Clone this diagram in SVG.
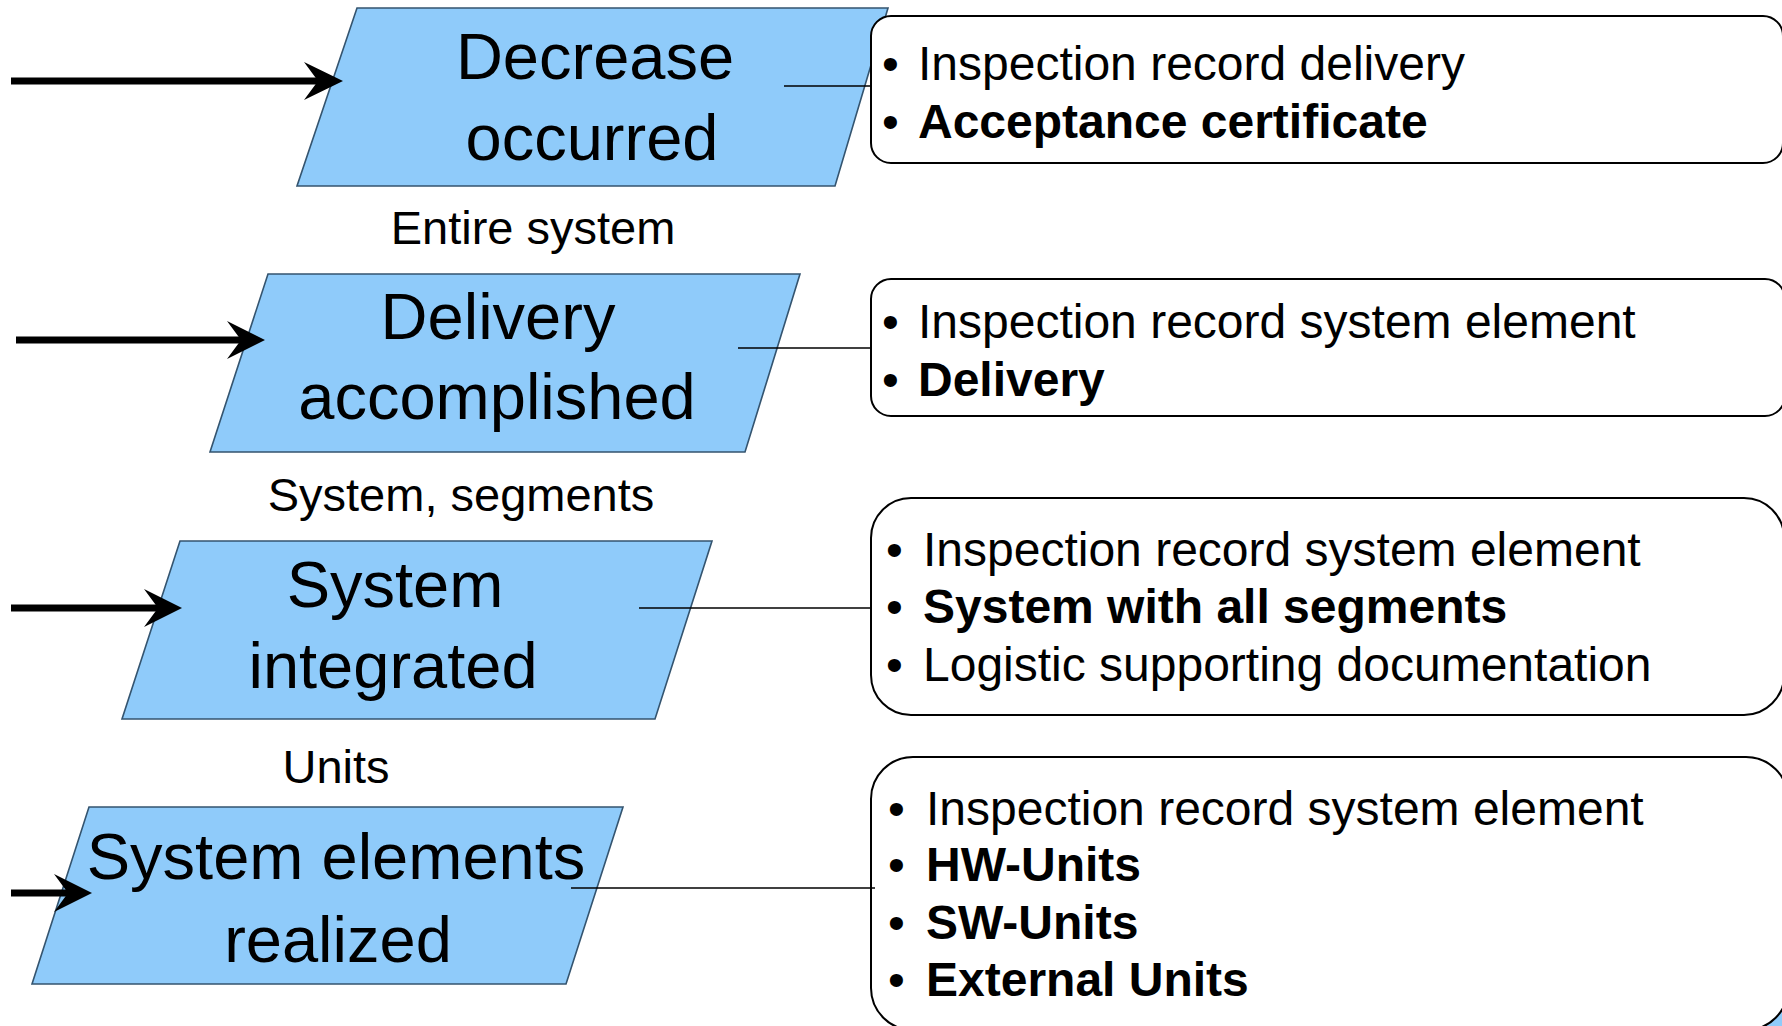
<svg xmlns="http://www.w3.org/2000/svg" width="1782" height="1026" viewBox="0 0 1782 1026">
<style>
.para{fill:#8fcbfa;stroke:#34546f;stroke-width:1.6}
.box{fill:#ffffff;stroke:#000;stroke-width:2}
.nt{font-family:"Liberation Sans",Arial,sans-serif;font-size:65px;fill:#000;text-anchor:middle}
.lbl{font-family:"Liberation Sans",Arial,sans-serif;font-size:47px;fill:#000;text-anchor:middle}
.bt{font-family:"Liberation Sans",Arial,sans-serif;font-size:48px;fill:#000}
.b{font-weight:bold}
.conn{stroke:#000;stroke-width:1.6;fill:none}
.arr{stroke:#000;stroke-width:7;fill:none}
.head{fill:#000}
</style>
<rect width="1782" height="1026" fill="#ffffff"/>
<polygon points="1758,1026 1782,998 1782,1026" fill="#8fcbfa"/>
<g id="node-decrease">
<polygon class="para" points="357,8 888,8 835,186 297,186"/>
<text class="nt" x="595" y="79">Decrease</text>
<text class="nt" x="592" y="160">occurred</text>
</g>
<g id="node-delivery">
<polygon class="para" points="268,274 800,274 745,452 210,452"/>
<text class="nt" x="498" y="339">Delivery</text>
<text class="nt" x="497" y="419">accomplished</text>
</g>
<g id="node-integrated">
<polygon class="para" points="180,541 712,541 655,719 122,719"/>
<text class="nt" x="395" y="607">System</text>
<text class="nt" x="393" y="688">integrated</text>
</g>
<g id="node-realized">
<polygon class="para" points="89,807 623,807 566,984 32,984"/>
<text class="nt" x="336" y="879" font-size="66">System elements</text>
<text class="nt" x="338" y="962">realized</text>
</g>
<g id="label-entire">
<text class="lbl" x="533" y="244">Entire system</text>
</g>
<g id="label-segments">
<text class="lbl" x="461" y="511">System, segments</text>
</g>
<g id="label-units">
<text class="lbl" x="336" y="783">Units</text>
</g>
<g id="box-1">
<rect class="box" x="871" y="16" width="912" height="147" rx="20" ry="20"/>
<text class="bt" x="882" y="80">•</text>
<text class="bt" x="918" y="80">Inspection record delivery</text>
<text class="bt" x="882" y="138">•</text>
<text class="bt b" x="918" y="138">Acceptance certificate</text>
</g>
<g id="box-2">
<rect class="box" x="871" y="279" width="914" height="137" rx="20" ry="20"/>
<text class="bt" x="882" y="338">•</text>
<text class="bt" x="918" y="338">Inspection record system element</text>
<text class="bt" x="882" y="396">•</text>
<text class="bt b" x="918" y="396">Delivery</text>
</g>
<g id="box-3">
<rect class="box" x="871" y="498" width="913" height="217" rx="40" ry="40"/>
<text class="bt" x="886" y="566">•</text>
<text class="bt" x="923" y="566">Inspection record system element</text>
<text class="bt" x="886" y="623">•</text>
<text class="bt b" x="923" y="623">System with all segments</text>
<text class="bt" x="886" y="681">•</text>
<text class="bt" x="923" y="681">Logistic supporting documentation</text>
</g>
<g id="box-4">
<rect class="box" x="871" y="757" width="917" height="273" rx="42" ry="42"/>
<text class="bt" x="888" y="825">•</text>
<text class="bt" x="926" y="825">Inspection record system element</text>
<text class="bt" x="888" y="881">•</text>
<text class="bt b" x="926" y="881">HW-Units</text>
<text class="bt" x="888" y="939">•</text>
<text class="bt b" x="926" y="939">SW-Units</text>
<text class="bt" x="888" y="996">•</text>
<text class="bt b" x="926" y="996">External Units</text>
</g>
<g id="connectors">
<line class="conn" x1="784" y1="86" x2="871" y2="86"/>
<line class="conn" x1="738" y1="348" x2="871" y2="348"/>
<line class="conn" x1="639" y1="608" x2="871" y2="608"/>
<line class="conn" x1="571" y1="888" x2="875" y2="888"/>
<line class="arr" x1="11" y1="81" x2="320" y2="81"/>
<polygon class="head" points="343,81 304,62 318,81 304,100"/>
<line class="arr" x1="16" y1="340" x2="243" y2="340"/>
<polygon class="head" points="265,340 227,321 241,340 227,359"/>
<line class="arr" x1="11" y1="608" x2="160" y2="608"/>
<polygon class="head" points="182,608 144,589 158,608 144,627"/>
<line class="arr" x1="11" y1="893" x2="70" y2="893"/>
<polygon class="head" points="92,893 54,874 68,893 54,912"/>
</g>
</svg>
